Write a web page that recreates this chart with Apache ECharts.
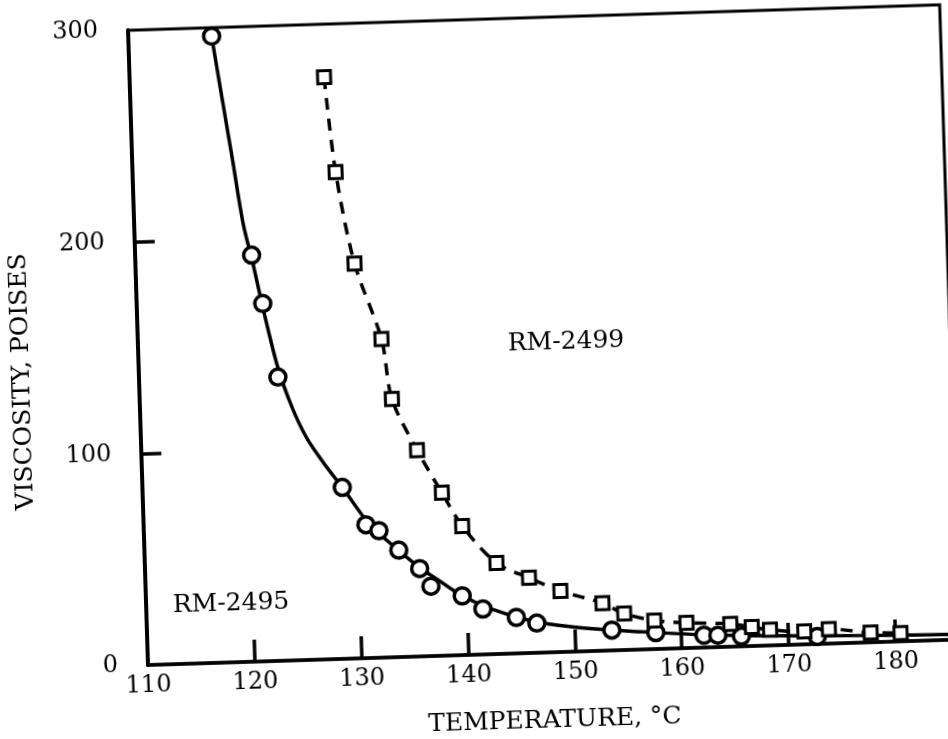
<!DOCTYPE html>
<html>
<head>
<meta charset="utf-8">
<script src="https://cdn.jsdelivr.net/npm/echarts@6/dist/echarts.min.js"></script>
<style>
html, body { margin: 0; padding: 0; background: #fff; overflow: hidden; width: 948px; height: 739px; }
#chart { position: absolute; left: 0; top: 0; width: 1000px; height: 780px;
  transform: rotate(-1.8deg); transform-origin: 148px 665px; }
</style>
</head>
<body>
<div id="chart"></div>
<script>
// ---- data ----
const tempLabels = [110, 120, 130, 140, 150, 160, 170, 180];
const tempTicks = [120, 130, 140, 150, 160, 170, 180];
const viscLabels = [0, 100, 200, 300];
const viscTicks = [100, 200];

// RM-2495 measured points (circles)
const rm2495Temp = [117.8, 120.9, 121.8, 123.0, 128.7, 130.8, 132.0, 133.8, 135.7, 136.7, 139.6, 141.5, 144.6, 146.5, 153.5, 157.6, 162.1, 163.4, 165.6, 172.7];
const rm2495Visc = [296, 192, 169, 134, 81, 63, 60, 50.5, 41.5, 33, 28, 21.5, 17, 14, 9.6, 7.8, 5.8, 5.6, 4.8, 3.5];

// RM-2495 drawn curve (solid)
const rm2495CurveTemp = [117.8, 118.5, 119.4, 120.2, 121.0, 121.8, 123.0, 124.2, 125.5, 127.0, 128.7, 131.0, 133.0, 135.7, 137.5, 139.6, 142.5, 146.5, 150.0, 153.5, 157.6, 162.0, 166.0, 173.0, 180.0, 186.0];
const rm2495CurveVisc = [296, 270, 237, 207, 188, 167, 139, 120, 105, 93, 81, 64, 54, 42, 35.5, 28, 21, 14.5, 11.6, 9.6, 7.8, 6, 5, 3.8, 3, 2.5];

// RM-2499 measured points (squares), joined by the dashed curve
const rm2499Temp = [128.2, 129.0, 130.5, 132.8, 133.6, 135.8, 138.0, 139.8, 142.9, 145.9, 148.8, 152.7, 154.7, 157.5, 160.5, 164.6, 166.6, 168.3, 171.5, 173.8, 177.7, 180.5];
const rm2499Visc = [275, 230, 186.5, 150.5, 122, 97.5, 77, 61, 43, 35.5, 28.8, 22.5, 17.2, 13.5, 11.9, 10.8, 9, 7.4, 6.1, 6.8, 4.6, 3.9];

const seriesNames = ['RM-2495', 'RM-2499'];
const xTitle = 'TEMPERATURE, °C';
const yTitle = 'VISCOSITY, POISES';

// ---- build ----
const zip = (a, b) => a.map((v, i) => [v, b[i]]);
const FONT = 'DejaVu Serif';
const TITLE_FONT = '25px "DejaVu Serif"';
const chart = echarts.init(document.getElementById('chart'), null, { renderer: 'canvas' });

chart.setOption({
  animation: false,
  backgroundColor: '#ffffff',
  grid: { left: 148, right: 40, top: 30, bottom: 115, show: true, borderColor: '#000', borderWidth: 3, backgroundColor: 'transparent' },
  xAxis: {
    type: 'value', min: 110, max: 186, interval: 10,
    axisLine: { show: true, lineStyle: { color: '#000', width: 3.5 } },
    axisTick: { show: true, inside: true, length: 22, customValues: tempTicks, lineStyle: { color: '#000', width: 3.5 } },
    axisLabel: { show: true, margin: 9, customValues: tempLabels, color: '#000', fontFamily: FONT, fontSize: 24 },
    splitLine: { show: false }
  },
  yAxis: {
    type: 'value', min: 0, max: 300, interval: 100,
    axisLine: { show: true, lineStyle: { color: '#000', width: 4 } },
    axisTick: { show: true, inside: true, length: 20, customValues: viscTicks, lineStyle: { color: '#000', width: 3.5 } },
    axisLabel: { show: true, margin: 30, customValues: viscLabels, color: '#000', fontFamily: FONT, fontSize: 24 },
    splitLine: { show: false }
  },
  graphic: [
    { type: 'text', x: 553, y: 733, style: { text: xTitle, fill: '#000', font: TITLE_FONT, align: 'center', verticalAlign: 'middle' } },
    { type: 'text', x: 31, y: 378, rotation: Math.PI / 2, style: { text: yTitle, fill: '#000', font: TITLE_FONT, align: 'center', verticalAlign: 'middle' } },
    { type: 'text', x: 576, y: 355, style: { text: seriesNames[1], fill: '#000', font: TITLE_FONT, align: 'center', verticalAlign: 'middle' } },
    { type: 'text', x: 233, y: 606, style: { text: seriesNames[0], fill: '#000', font: TITLE_FONT, align: 'center', verticalAlign: 'middle' } }
  ],
  series: [
    {
      name: seriesNames[0] + ' curve', type: 'line', data: zip(rm2495CurveTemp, rm2495CurveVisc),
      smooth: 0.3, showSymbol: false, symbol: 'none', clip: true,
      lineStyle: { color: '#000', width: 3.5 }, z: 2
    },
    {
      name: seriesNames[1] + ' curve', type: 'line', data: zip(rm2499Temp, rm2499Visc),
      smooth: 0.3, showSymbol: false, symbol: 'none', clip: true,
      lineStyle: { color: '#000', width: 3.5, type: [12, 9] }, z: 2
    },
    {
      name: seriesNames[0], type: 'scatter', data: zip(rm2495Temp, rm2495Visc),
      symbol: 'circle', symbolSize: 16,
      itemStyle: { color: '#fff', borderColor: '#000', borderWidth: 3.5, opacity: 1 }, z: 3
    },
    {
      name: seriesNames[1], type: 'scatter', data: zip(rm2499Temp, rm2499Visc),
      symbol: 'rect', symbolSize: 13,
      itemStyle: { color: '#fff', borderColor: '#000', borderWidth: 3, opacity: 1 }, z: 3
    }
  ]
});
</script>
</body>
</html>
